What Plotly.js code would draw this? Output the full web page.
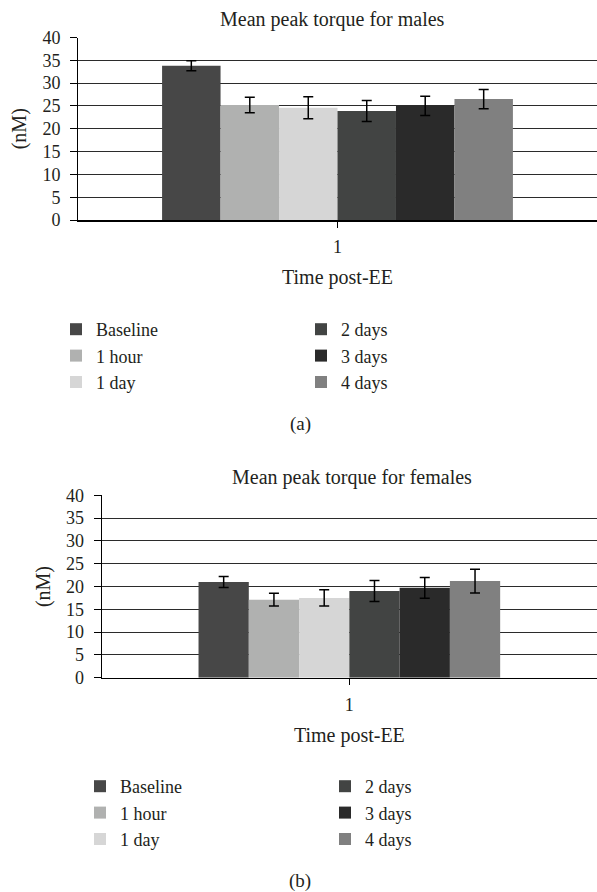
<!DOCTYPE html>
<html><head><meta charset="utf-8">
<script src="https://cdn.plot.ly/plotly-3.0.1.min.js"></script>
<style>html,body{margin:0;padding:0;background:#fff}#chart{width:597px;height:892px}</style>
</head><body><div id="chart"></div>
<script>
const categories = ['1'];
const seriesNames = ['Baseline', '1 hour', '1 day', '2 days', '3 days', '4 days'];
const seriesColors = ['#474747', '#b0b1b0', '#d6d6d6', '#424443', '#2a2a2a', '#808080'];
const malesMean = [33.8, 25.2, 24.6, 23.9, 25.0, 26.5];
const malesErr = [1.1, 1.7, 2.4, 2.3, 2.1, 2.1];
const femalesMean = [21.0, 17.1, 17.5, 19.0, 19.7, 21.2];
const femalesErr = [1.2, 1.4, 1.8, 2.3, 2.3, 2.6];
const yTicks = [0, 5, 10, 15, 20, 25, 30, 35, 40];

const W = 597, H = 892;
const px = v => v / W;
const py = v => 1 - v / H;
const FONT = 'Liberation Serif, Times New Roman, serif';
const TXT = '#231f20';
const legendRanks = [1, 3, 5, 2, 4, 6];
const f = (size) => ({family: FONT, size: size, color: TXT});

const traces = [];
seriesNames.forEach((name, i) => {
  traces.push({
    type: 'bar', name: name, x: categories, y: [malesMean[i]],
    error_y: {type: 'data', array: [malesErr[i]], visible: true, color: '#000', thickness: 1.5, width: 5},
    marker: {color: seriesColors[i], line: {width: 0}},
    xaxis: 'x', yaxis: 'y', legend: 'legend', legendrank: legendRanks[i], hoverinfo: 'skip'
  });
});
seriesNames.forEach((name, i) => {
  traces.push({
    type: 'bar', name: name, x: categories, y: [femalesMean[i]],
    error_y: {type: 'data', array: [femalesErr[i]], visible: true, color: '#000', thickness: 1.5, width: 5},
    marker: {color: seriesColors[i], line: {width: 0}},
    xaxis: 'x2', yaxis: 'y2', legend: 'legend2', legendrank: legendRanks[i], hoverinfo: 'skip'
  });
});

function xAxis(domain, anchor, range) {
  return {
    domain: domain, anchor: anchor, type: 'category', range: range,
    showline: true, linecolor: '#000', linewidth: 1.5,
    ticks: 'outside', ticklen: 6, tickcolor: '#000', tickwidth: 1,
    tickfont: f(18), ticklabelstandoff: 4, showgrid: false, zeroline: false,
    title: {text: 'Time post-EE', font: f(20), standoff: 14},
    automargin: false, fixedrange: true
  };
}
function yAxis(domain, anchor) {
  return {
    domain: domain, anchor: anchor, range: [0, 40], tickvals: yTicks,
    showline: true, linecolor: '#000', linewidth: 1,
    ticks: 'outside', ticklen: 7, tickcolor: '#000', tickwidth: 1,
    tickfont: f(18), ticklabelstandoff: 6,
    showgrid: true, gridcolor: '#2b2b2b', gridwidth: 1, zeroline: false,
    title: {text: '(nM)', font: f(20), standoff: 10},
    automargin: false, fixedrange: true
  };
}
function legendAt(x, yTop) {
  return {
    orientation: 'h', x: px(x), y: py(yTop), xanchor: 'left', yanchor: 'top',
    entrywidth: 200, entrywidthmode: 'pixels', traceorder: 'normal',
    font: f(18), bgcolor: 'rgba(0,0,0,0)', borderwidth: 0
  };
}
function label(text, x, y, size) {
  return {text: text, xref: 'paper', yref: 'paper', x: px(x), y: py(y),
    xanchor: 'center', yanchor: 'middle', showarrow: false, font: f(size)};
}

const layout = {
  width: W, height: H, margin: {l: 0, r: 0, t: 0, b: 0, autoexpand: false},
  paper_bgcolor: '#fff', plot_bgcolor: '#fff',
  font: f(18),
  barmode: 'group', bargap: 0.324, bargroupgap: 0,
  showlegend: true,
  xaxis: xAxis([px(78), 1], 'y', [-0.5, 0.5]),
  yaxis: yAxis([py(220), py(37.5)], 'x'),
  xaxis2: xAxis([px(101.7), 1], 'y2', [-0.555, 0.555]),
  yaxis2: yAxis([py(677.7), py(495.3)], 'x2'),
  legend: legendAt(56, 311),
  legend2: legendAt(80, 768),
  annotations: [
    label('Mean peak torque for males', 332, 19.5, 20),
    label('Mean peak torque for females', 352, 477, 20),
    label('(a)', 300, 424.5, 19),
    label('(b)', 300, 881, 19)
  ]
};

Plotly.newPlot('chart', traces, layout, {staticPlot: true, displayModeBar: false});
</script>
</body></html>
